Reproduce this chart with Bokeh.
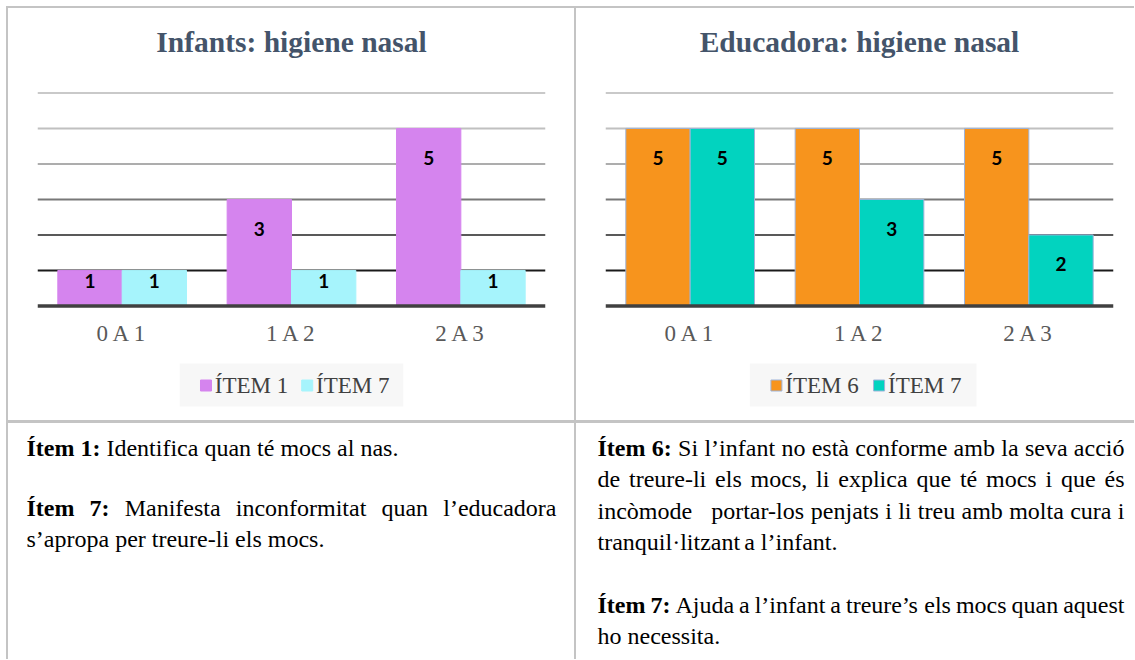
from bokeh.plotting import figure
from bokeh.models import ColumnDataSource, FactorRange, Range1d, Span
from bokeh.transform import dodge
from bokeh.layouts import row, column
from bokeh.core.properties import value
from bokeh.embed import file_html
from bokeh.resources import INLINE

# ---------------- data ----------------
categories = ["0 A 1", "1 A 2", "2 A 3"]
infants_item1 = [1, 3, 5]
infants_item7 = [1, 1, 1]
educadora_item6 = [5, 5, 5]
educadora_item7 = [5, 3, 2]
infants_series = ["ÍTEM 1", "ÍTEM 7"]
educadora_series = ["ÍTEM 6", "ÍTEM 7"]
chart_titles = ["Infants: higiene nasal", "Educadora: higiene nasal"]
grid_levels = [1, 2, 3, 4, 5, 6]

left_text = [
    ("Ítem 1:", "Identifica quan té mocs al nas.", False),
    ("Ítem 7:", "Manifesta inconformitat quan l’educadora", True),
    ("", "s’apropa per treure-li els mocs.", False),
]
right_text = [
    ("Ítem 6:", "Si l’infant no està conforme amb la seva acció", True),
    ("", "de treure-li els mocs, li explica que té mocs i que és", True),
    ("", "incòmode   portar-los penjats i li treu amb molta cura i", True),
    ("", "tranquil·litzant a l’infant.", False),
    ("Ítem 7:", "Ajuda a l’infant a treure’s els mocs quan aquest", True),
    ("", "ho necessita.", False),
]

# ---------------- styles ----------------
SERIF = "Liberation Serif"
TITLE_COLOR = "#44546A"
GRID_COLORS = ["#1a1a1a", "#595959", "#787878", "#adadad", "#c0c0c0", "#c9c9c9"]
CELL_BORDER = "#c4c4c4"
WHITE = {"background-color": "white"}

UNIT = 35.5                 # pixels per value unit
FRAME_W, FRAME_H = 508, 301
Y0 = -0.1
Y1 = Y0 + FRAME_H / UNIT
CHART_H = 346
LEGEND_H = 66
TEXT_H = 236

# Times / Liberation Serif advance widths (per 1000 em)
REG = {" ": 250, "a": 444, "b": 500, "c": 444, "d": 500, "e": 444, "f": 333,
       "g": 500, "h": 500, "i": 278, "j": 278, "k": 500, "l": 278, "m": 778,
       "n": 500, "o": 500, "p": 500, "q": 500, "r": 333, "s": 389, "t": 278,
       "u": 500, "v": 500, "w": 722, "x": 500, "y": 500, "z": 444,
       "A": 722, "E": 611, "I": 333, "Í": 333, "M": 889, "S": 556, "T": 611,
       "à": 444, "é": 444, "è": 444, "ò": 500, "ó": 500, "í": 278, "’": 333,
       "·": 250, ",": 250, ".": 250, "-": 333, ":": 278,
       "0": 500, "1": 500, "2": 500, "3": 500, "4": 500, "5": 500, "6": 500,
       "7": 500, "8": 500, "9": 500}
BOLD = {" ": 250, "Í": 389, "t": 333, "e": 444, "m": 833, ":": 333,
        "1": 500, "6": 500, "7": 500}


def tw(s, bold, size):
    tab = BOLD if bold else REG
    return sum(tab.get(c, 500) for c in s) * size / 1000.0


def make_chart(title, vals_a, vals_b, colors, outline, left, right):
    p = figure(x_range=FactorRange(factors=categories), y_range=Range1d(Y0, Y1),
               frame_width=FRAME_W, frame_height=FRAME_H,
               min_border_left=left, min_border_right=right,
               min_border_top=0, min_border_bottom=CHART_H - FRAME_H,
               toolbar_location=None, output_backend="svg", title=None,
               y_axis_location=None, background_fill_color="white",
               border_fill_color="white", outline_line_color=None)
    p.grid.visible = False

    for lvl, col in zip(grid_levels, GRID_COLORS):
        p.add_layout(Span(location=lvl, dimension="width", line_color=col,
                          line_width=2, level="underlay"))

    src = ColumnDataSource(dict(
        cat=categories, a=vals_a, b=vals_b,
        la=[str(v) for v in vals_a], lb=[str(v) for v in vals_b],
        oa=[10.5 if v <= 1 else 29.5 for v in vals_a],
        ob=[10.5 if v <= 1 else 29.5 for v in vals_b],
    ))
    for key, off, colr in (("a", -0.19, colors[0]), ("b", 0.19, colors[1])):
        p.vbar(x=dodge("cat", off, range=p.x_range), top=key, width=0.38,
               source=src, fill_color=colr,
               line_color=outline if outline else colr, line_width=1)
    for key, off in (("a", -0.19), ("b", 0.19)):
        p.text(x=dodge("cat", off, range=p.x_range), y=key, text="l" + key,
               y_offset="o" + key, source=src, text_align="center",
               text_baseline="middle", text_font=value("Lato"),
               text_font_style="bold", text_font_size="19px",
               text_color="black")

    p.add_layout(Span(location=0, dimension="width", line_color="#404040",
                      line_width=3.5, level="overlay"))

    # chart title (text centre 264 px above the value-0 line)
    p.text(x=[categories[1]], y=[264 / UNIT], text=[title], text_align="center",
           text_baseline="middle", text_font=value(SERIF),
           text_font_style="bold", text_font_size="29.5px", text_color=TITLE_COLOR)

    ax = p.xaxis[0]
    ax.axis_line_color = None
    ax.major_tick_line_color = None
    ax.minor_tick_line_color = None
    ax.major_tick_out = 0
    ax.major_tick_in = 0
    ax.major_label_standoff = 11
    ax.major_label_text_font = SERIF
    ax.major_label_text_font_size = "23px"
    ax.major_label_text_color = "#595959"
    return p


def make_legend(width, center_x, names, colors, outline):
    """Legend strip placed under a chart (pixel coordinates, y downwards)."""
    p = figure(width=width, height=LEGEND_H, x_range=Range1d(0, width),
               y_range=Range1d(LEGEND_H, 0), min_border=0, toolbar_location=None,
               output_backend="svg", title=None, x_axis_location=None,
               y_axis_location=None, background_fill_color="white",
               border_fill_color="white", outline_line_color=None)
    p.grid.visible = False
    fs, sw, stand, gap = 23, 11, 4.3, 24
    box_w, box_top, box_bot, mid = 249, 9, 52, 31
    p.quad(left=[center_x - box_w / 2], right=[center_x + box_w / 2],
           top=[box_top], bottom=[box_bot], fill_color="#f7f7f7", line_color=None)
    widths = [tw(n, False, fs) for n in names]
    total = 2 * (sw + stand) + sum(widths) + gap
    x = center_x - total / 2
    for name, colr, w in zip(names, colors, widths):
        p.rect(x=[x + sw / 2], y=[mid], width=sw, height=sw,
               width_units="screen", height_units="screen", fill_color=colr,
               line_color=outline if outline else colr, line_width=1)
        p.text(x=[x + sw + stand], y=[mid], text=[name], text_align="left",
               text_baseline="middle", text_font=value(SERIF),
               text_font_size=f"{fs}px", text_color="#404040")
        x += sw + stand + w + gap
    return p


FONT = 24


def make_text_cell(width, lines, mids, x_left, x_right):
    p = figure(width=width, height=TEXT_H, x_range=Range1d(0, width),
               y_range=Range1d(TEXT_H, 0), min_border=0, toolbar_location=None,
               output_backend="svg", title=None, x_axis_location=None,
               y_axis_location=None, background_fill_color="white",
               border_fill_color="white", outline_line_color=None)
    p.grid.visible = False
    reg = dict(x=[], y=[], t=[])
    bld = dict(x=[], y=[], t=[])
    for (prefix, rest, justify), ym in zip(lines, mids):
        toks = []
        if prefix:
            toks += [(w, True) for w in prefix.split(" ")]
        toks += [(w, False) for w in rest.split(" ")]
        natural = sum(tw(w, b, FONT) for w, b in toks)
        gaps = len(toks) - 1
        space = FONT * 0.25
        if justify and gaps > 0:
            space = (x_right - x_left - natural) / gaps
        x = x_left
        for w, b in toks:
            if w:
                d = bld if b else reg
                d["x"].append(x)
                d["y"].append(ym)
                d["t"].append(w)
            x += tw(w, b, FONT) + space
    for d, style in ((reg, "normal"), (bld, "bold")):
        p.text(x="x", y="y", text="t", source=ColumnDataSource(d),
               text_align="left", text_baseline="middle",
               text_font=value(SERIF), text_font_style=style,
               text_font_size=f"{FONT}px", text_color="black")
    return p


W1, W2 = 566, 558
c1 = make_chart(chart_titles[0], infants_item1, infants_item7,
                ["#D584EE", "#A6F4FC"], None, 29, 29)
c2 = make_chart(chart_titles[1], educadora_item6, educadora_item7,
                ["#F7941D", "#02D3BF"], "#9DB3D9", 29, 21)
l1 = make_legend(W1, 29 + FRAME_W / 2, infants_series, ["#D584EE", "#A6F4FC"], None)
l2 = make_legend(W2, 29 + FRAME_W / 2, educadora_series, ["#F7941D", "#02D3BF"], "#9DB3D9")
t1 = make_text_cell(W1, left_text, [24, 84, 115], 18, 548)
t2 = make_text_cell(W2, right_text, [24, 55, 87, 118, 181, 212], 21, 548)

layout = column(row(column(c1, l1, styles=WHITE), column(c2, l2, styles=WHITE),
                    spacing=2),
                row(column(t1, styles=WHITE), column(t2, styles=WHITE), spacing=2),
                spacing=3,
                styles={"background-color": CELL_BORDER, "padding-left": "2px",
                        "padding-top": "2px", "margin-left": "6px",
                        "margin-top": "6px"})

open("out.html", "w").write(file_html(layout, INLINE))
